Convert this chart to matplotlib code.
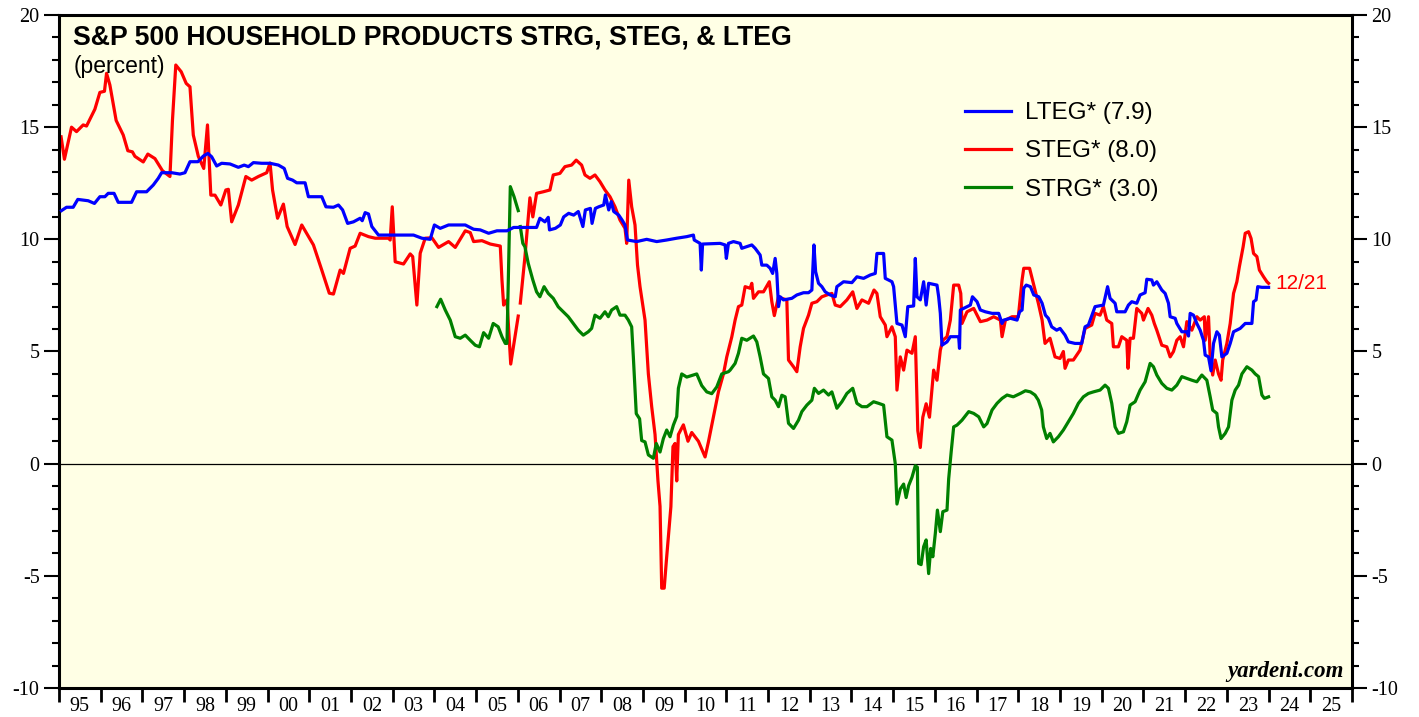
import numpy as np
import matplotlib.pyplot as plt
from matplotlib.ticker import MultipleLocator, FixedLocator, NullFormatter

nan = np.nan

# LTEG (blue) - decimal years / percent
lteg_x = [1995.06, 1995.18, 1995.34, 1995.45, 1995.70, 1995.85, 1995.98, 1996.10, 1996.18, 1996.32,
          1996.42, 1996.74, 1996.86, 1997.10, 1997.26, 1997.38, 1997.46, 1997.70, 1997.90, 1998.02,
          1998.14, 1998.33, 1998.46, 1998.57, 1998.66, 1998.78, 1998.90, 1999.10, 1999.30, 1999.44,
          1999.54, 1999.66, 1999.86, 2000.06, 2000.26, 2000.40, 2000.48, 2000.60, 2000.70, 2000.90,
          2000.98, 2001.30, 2001.40, 2001.58, 2001.70, 2001.80, 2001.92, 2002.06, 2002.22, 2002.27,
          2002.34, 2002.42, 2002.50, 2002.66, 2003.30, 2003.50, 2003.70, 2003.90, 2004.00, 2004.14,
          2004.34, 2004.74, 2004.94, 2005.10, 2005.30, 2005.50, 2005.74, 2005.90, 2006.20, 2006.45,
          2006.53, 2006.65, 2006.73, 2006.76, 2006.90, 2007.02, 2007.10, 2007.22, 2007.34, 2007.45,
          2007.56, 2007.62, 2007.74, 2007.78, 2007.86, 2007.94, 2008.06, 2008.10, 2008.18, 2008.24,
          2008.30, 2008.42, 2008.50, 2008.57, 2008.63, 2008.85, 2009.09, 2009.33, 2009.57, 2009.81,
          2010.05, 2010.21, 2010.23, 2010.37, 2010.40, 2010.43, 2010.85, 2010.97, 2011.00, 2011.05,
          2011.17, 2011.33, 2011.37, 2011.61, 2011.69, 2011.81, 2011.85, 2011.97, 2012.05, 2012.11,
          2012.17, 2012.21, 2012.25, 2012.29, 2012.37, 2012.57, 2012.69, 2012.85, 2012.97, 2013.05,
          2013.10, 2013.14, 2013.21, 2013.29, 2013.37, 2013.49, 2013.61, 2013.65, 2013.81, 2014.01,
          2014.13, 2014.29, 2014.45, 2014.57, 2014.61, 2014.77, 2014.81, 2014.97, 2015.01, 2015.09,
          2015.21, 2015.29, 2015.35, 2015.49, 2015.53, 2015.57, 2015.65, 2015.73, 2015.79, 2015.85,
          2016.05, 2016.09, 2016.13, 2016.17, 2016.29, 2016.37, 2016.57, 2016.59, 2016.61, 2016.77,
          2016.85, 2016.90, 2017.01, 2017.09, 2017.21, 2017.37, 2017.53, 2017.61, 2017.65, 2017.81,
          2017.97, 2018.03, 2018.09, 2018.13, 2018.19, 2018.29, 2018.37, 2018.49, 2018.57, 2018.65,
          2018.72, 2018.80, 2018.92, 2019.00, 2019.12, 2019.20, 2019.36, 2019.52, 2019.60, 2019.68,
          2019.84, 2020.04, 2020.14, 2020.20, 2020.32, 2020.36, 2020.56, 2020.64, 2020.72, 2020.84,
          2020.92, 2021.04, 2021.08, 2021.20, 2021.24, 2021.32, 2021.44, 2021.52, 2021.60, 2021.64,
          2021.76, 2021.80, 2021.92, 2022.04, 2022.08, 2022.12, 2022.20, 2022.28, 2022.36, 2022.44,
          2022.48, 2022.56, 2022.62, 2022.68, 2022.76, 2022.82, 2022.88, 2023.00, 2023.08, 2023.16,
          2023.32, 2023.44, 2023.60, 2023.64, 2023.70, 2023.74, 2023.84, 2024.00]
lteg_y = [11.28, 11.43, 11.43, 11.78, 11.72, 11.60, 11.90, 11.90, 12.05, 12.05,
          11.65, 11.65, 12.12, 12.12, 12.42, 12.72, 12.97, 12.97, 12.91, 12.97,
          13.46, 13.46, 13.71, 13.83, 13.68, 13.27, 13.39, 13.36, 13.21, 13.31,
          13.24, 13.42, 13.39, 13.39, 13.31, 13.16, 12.72, 12.64, 12.52, 12.52,
          11.90, 11.90, 11.45, 11.43, 11.53, 11.31, 10.71, 10.78, 10.94, 10.83,
          11.19, 11.13, 10.57, 10.19, 10.19, 10.19, 10.05, 10.00, 10.64, 10.49,
          10.64, 10.64, 10.45, 10.42, 10.27, 10.38, 10.38, 10.53, 10.53, 10.53,
          10.94, 10.78, 10.98, 10.42, 10.49, 10.64, 11.00, 11.16, 11.08, 11.24,
          10.57, 11.31, 11.38, 10.71, 11.38, 11.45, 11.53, 11.98, 11.31, 11.68,
          11.24, 11.08, 10.86, 10.64, 9.97, 9.90, 10.00, 9.90, 9.97, 10.05,
          10.12, 10.19, 9.97, 9.82, 8.63, 9.79, 9.82, 9.75, 9.15, 9.82,
          9.90, 9.82, 9.60, 9.75, 9.60, 9.30, 8.85, 8.85, 8.71, 8.48,
          9.15, 8.48, 7.00, 7.44, 7.30, 7.37, 7.52, 7.62, 7.62, 7.74,
          9.75, 8.56, 8.04, 7.89, 7.66, 7.52, 7.44, 7.89, 8.11, 8.07,
          8.33, 8.26, 8.41, 8.48, 9.37, 9.37, 8.26, 8.11, 7.89, 6.25,
          6.18, 5.66, 7.00, 7.03, 9.15, 7.44, 7.30, 8.11, 7.07, 8.04,
          7.96, 7.44, 6.70, 5.28, 5.43, 5.66, 5.66, 5.14, 6.85, 7.00,
          7.07, 7.44, 7.22, 6.85, 6.77, 6.70, 6.70, 6.25, 6.40, 6.48,
          6.40, 6.77, 6.85, 7.82, 7.96, 7.89, 7.52, 7.44, 7.15, 6.62,
          6.48, 6.10, 5.95, 6.03, 5.73, 5.43, 5.36, 5.36, 6.10, 6.18,
          7.00, 7.07, 7.89, 7.37, 7.15, 6.77, 6.77, 7.07, 7.22, 7.15,
          7.52, 7.62, 8.22, 8.19, 7.96, 8.11, 7.74, 7.59, 7.15, 6.55,
          6.48, 6.25, 5.88, 5.88, 5.69, 6.70, 6.62, 6.25, 5.95, 5.50,
          4.84, 4.76, 4.14, 5.36, 5.88, 5.73, 4.76, 4.92, 5.36, 5.88,
          6.03, 6.25, 6.25, 7.22, 7.30, 7.89, 7.86, 7.86]

# STEG (red)
steg_x = [1995.05, 1995.13, 1995.30, 1995.42, 1995.58, 1995.66, 1995.86, 1995.98, 1996.09, 1996.14,
          1996.22, 1996.37, 1996.54, 1996.65, 1996.76, 1996.82, 1997.02, 1997.13, 1997.30, 1997.48,
          1997.66, 1997.72, 1997.80, 1997.93, 1998.05, 1998.14, 1998.22, 1998.34, 1998.47, 1998.56,
          1998.64, 1998.74, 1998.88, 1999.00, 1999.06, 1999.14, 1999.30, 1999.48, 1999.62, 1999.78,
          1999.98, 2000.06, 2000.12, 2000.24, 2000.38, 2000.47, 2000.66, 2000.82, 2001.10, 2001.30,
          2001.48, 2001.58, 2001.74, 2001.82, 2001.98, 2002.10, 2002.22, 2002.42, 2002.58, 2002.90,
          2002.94, 2002.99, 2003.06, 2003.26, 2003.42, 2003.48, 2003.58, 2003.66, 2003.78, 2003.94,
          2004.10, 2004.34, 2004.50, 2004.74, 2004.86, 2004.94, 2005.14, 2005.34, 2005.58, 2005.62,
          2005.66, 2005.74, 2005.83, 2006.01, 2006.03, 2006.06, 2006.17, 2006.29, 2006.36, 2006.45,
          2006.61, 2006.77, 2006.85, 2007.01, 2007.13, 2007.29, 2007.40, 2007.53, 2007.61, 2007.73,
          2007.85, 2007.97, 2008.09, 2008.21, 2008.33, 2008.45, 2008.57, 2008.61, 2008.66, 2008.73,
          2008.81, 2008.87, 2008.93, 2009.05, 2009.13, 2009.21, 2009.29, 2009.36, 2009.41, 2009.45,
          2009.51, 2009.56, 2009.61, 2009.67, 2009.72, 2009.77, 2009.81, 2009.85, 2009.97, 2010.08,
          2010.17, 2010.33, 2010.49, 2010.57, 2010.69, 2010.81, 2010.93, 2011.01, 2011.13, 2011.21,
          2011.29, 2011.37, 2011.45, 2011.57, 2011.61, 2011.65, 2011.77, 2011.89, 2012.03, 2012.09,
          2012.15, 2012.25, 2012.33, 2012.45, 2012.49, 2012.61, 2012.69, 2012.77, 2012.85, 2012.97,
          2013.05, 2013.17, 2013.29, 2013.41, 2013.53, 2013.61, 2013.73, 2013.89, 2014.03, 2014.13,
          2014.25, 2014.41, 2014.54, 2014.61, 2014.69, 2014.81, 2014.85, 2014.97, 2015.05, 2015.09,
          2015.17, 2015.25, 2015.33, 2015.45, 2015.53, 2015.59, 2015.65, 2015.71, 2015.79, 2015.87,
          2015.97, 2016.05, 2016.13, 2016.19, 2016.29, 2016.37, 2016.45, 2016.57, 2016.62, 2016.65,
          2016.77, 2016.93, 2017.09, 2017.25, 2017.41, 2017.57, 2017.61, 2017.69, 2017.85, 2018.00,
          2018.09, 2018.13, 2018.27, 2018.36, 2018.48, 2018.57, 2018.64, 2018.76, 2018.88, 2019.00,
          2019.08, 2019.12, 2019.20, 2019.32, 2019.48, 2019.60, 2019.76, 2019.84, 2019.96, 2020.04,
          2020.12, 2020.24, 2020.28, 2020.40, 2020.48, 2020.60, 2020.63, 2020.68, 2020.76, 2020.84,
          2020.96, 2021.00, 2021.11, 2021.20, 2021.26, 2021.32, 2021.44, 2021.56, 2021.64, 2021.72,
          2021.80, 2021.88, 2021.96, 2022.04, 2022.16, 2022.28, 2022.36, 2022.46, 2022.48, 2022.56,
          2022.60, 2022.66, 2022.72, 2022.80, 2022.86, 2022.90, 2023.00, 2023.08, 2023.16, 2023.24,
          2023.30, 2023.39, 2023.44, 2023.52, 2023.58, 2023.64, 2023.72, 2023.78, 2023.88, 2023.96,
          2024.00]
steg_y = [14.57, 13.57, 15.00, 14.80, 15.10, 15.05, 15.80, 16.55, 16.60, 17.40,
          16.88, 15.30, 14.65, 13.95, 13.90, 13.70, 13.45, 13.80, 13.60, 13.06,
          12.80, 15.30, 17.77, 17.47, 16.95, 16.80, 14.65, 13.70, 13.16, 15.10,
          11.97, 11.97, 11.53, 12.20, 12.23, 10.78, 11.53, 12.80, 12.64, 12.80,
          12.97, 13.40, 12.20, 10.94, 11.57, 10.57, 9.77, 10.64, 9.75, 8.63,
          7.60, 7.56, 8.63, 8.48, 9.60, 9.70, 10.27, 10.12, 10.05, 10.05,
          9.97, 11.45, 9.00, 8.90, 9.35, 9.23, 7.07, 9.38, 10.05, 10.07,
          9.64, 9.90, 9.64, 10.38, 10.30, 9.90, 9.94, 9.79, 9.70, 8.19,
          7.07, 7.30, 4.44, 6.58, nan, 7.16, 9.20, 11.85, 11.00, 12.05,
          12.12, 12.20, 12.87, 12.94, 13.24, 13.31, 13.53, 13.31, 12.87, 12.72,
          12.87, 12.57, 12.20, 11.90, 11.45, 10.86, 10.49, 9.82, 12.64, 11.45,
          10.64, 8.85, 7.89, 6.40, 4.00, 2.54, 1.30, -0.76, -1.90, -5.55,
          -5.55, -4.37, -3.26, -1.92, 0.76, 0.90, -0.77, 1.30, 1.73, 1.00,
          1.39, 1.00, 0.30, 0.97, 2.08, 3.20, 4.00, 4.76, 5.65, 6.40,
          7.00, 7.07, 7.89, 7.82, 8.04, 7.37, 7.66, 7.66, 8.11, 7.22,
          6.60, 7.44, 7.37, 7.30, 4.62, 4.32, 4.10, 5.21, 6.03, 6.62,
          7.15, 7.22, 7.44, 7.52, 7.59, 7.07, 7.00, 7.30, 7.66, 6.92,
          7.30, 7.15, 7.74, 7.59, 6.55, 6.18, 5.66, 6.10, 5.66, 3.28,
          4.76, 4.17, 5.06, 4.92, 5.66, 1.47, 0.72, 2.07, 2.67, 2.07,
          4.17, 3.72, 5.06, 5.50, 5.66, 6.40, 7.96, 7.96, 7.59, 6.25,
          6.77, 6.92, 6.33, 6.40, 6.55, 6.40, 5.66, 6.40, 6.55, 6.55,
          8.19, 8.71, 8.71, 8.04, 7.15, 6.40, 5.36, 5.59, 4.76, 4.69,
          5.00, 4.25, 4.62, 4.62, 5.06, 6.03, 6.18, 6.70, 6.62, 7.00,
          6.40, 6.25, 5.21, 5.21, 5.66, 5.50, 4.25, 5.59, 5.59, 6.92,
          6.70, 6.40, 6.92, 6.62, 6.25, 5.95, 5.28, 5.21, 4.76, 5.00,
          5.50, 5.66, 5.21, 6.33, 5.95, 6.55, 6.40, 6.55, 5.50, 6.55,
          4.76, 3.95, 4.62, 4.00, 3.72, 4.62, 5.36, 6.25, 7.59, 8.11,
          8.78, 9.67, 10.27, 10.34, 10.04, 9.37, 9.23, 8.63, 8.33, 8.11,
          8.04]

# STRG (green)
strg_x = [2004.06, 2004.15, 2004.26, 2004.38, 2004.50, 2004.62, 2004.74, 2004.86, 2004.98, 2005.08,
          2005.18, 2005.30, 2005.41, 2005.53, 2005.62, 2005.70, 2005.74, 2005.82, 2005.91, 2006.01,
          2006.03, 2006.06, 2006.12, 2006.17, 2006.25, 2006.36, 2006.45, 2006.53, 2006.63, 2006.73,
          2006.85, 2006.97, 2007.09, 2007.21, 2007.33, 2007.45, 2007.57, 2007.69, 2007.77, 2007.85,
          2007.97, 2008.09, 2008.17, 2008.25, 2008.37, 2008.45, 2008.57, 2008.65, 2008.73, 2008.77,
          2008.84, 2008.92, 2008.97, 2009.05, 2009.13, 2009.25, 2009.32, 2009.41, 2009.49, 2009.57,
          2009.65, 2009.73, 2009.81, 2009.85, 2009.93, 2010.05, 2010.17, 2010.29, 2010.41, 2010.53,
          2010.65, 2010.77, 2010.89, 2011.05, 2011.09, 2011.21, 2011.29, 2011.37, 2011.49, 2011.65,
          2011.73, 2011.81, 2011.89, 2012.01, 2012.09, 2012.17, 2012.25, 2012.33, 2012.41, 2012.49,
          2012.61, 2012.73, 2012.81, 2012.93, 2013.05, 2013.11, 2013.21, 2013.33, 2013.45, 2013.53,
          2013.65, 2013.77, 2013.89, 2014.03, 2014.13, 2014.25, 2014.37, 2014.53, 2014.65, 2014.77,
          2014.85, 2014.97, 2015.05, 2015.09, 2015.17, 2015.25, 2015.31, 2015.37, 2015.45, 2015.53,
          2015.58, 2015.61, 2015.67, 2015.73, 2015.79, 2015.85, 2015.90, 2015.95, 2016.01, 2016.06,
          2016.13, 2016.19, 2016.29, 2016.33, 2016.39, 2016.45, 2016.53, 2016.65, 2016.81, 2016.93,
          2017.05, 2017.17, 2017.25, 2017.37, 2017.49, 2017.61, 2017.73, 2017.88, 2018.05, 2018.17,
          2018.29, 2018.40, 2018.48, 2018.56, 2018.60, 2018.68, 2018.76, 2018.84, 2018.96, 2019.08,
          2019.20, 2019.32, 2019.44, 2019.56, 2019.68, 2019.80, 2019.96, 2020.08, 2020.16, 2020.24,
          2020.32, 2020.40, 2020.52, 2020.60, 2020.68, 2020.80, 2020.92, 2021.04, 2021.16, 2021.24,
          2021.32, 2021.44, 2021.56, 2021.68, 2021.80, 2021.92, 2022.04, 2022.16, 2022.28, 2022.40,
          2022.52, 2022.60, 2022.66, 2022.76, 2022.80, 2022.86, 2022.96, 2023.04, 2023.12, 2023.20,
          2023.28, 2023.36, 2023.48, 2023.60, 2023.68, 2023.76, 2023.84, 2023.90, 2024.00]
strg_y = [7.00, 7.33, 6.85, 6.40, 5.66, 5.59, 5.73, 5.50, 5.28, 5.21,
          5.84, 5.59, 6.25, 6.10, 5.66, 5.36, 5.36, 12.35, 11.90, 11.28,
          nan, 10.57, 9.82, 9.67, 8.93, 8.19, 7.66, 7.44, 7.89, 7.59,
          7.37, 6.99, 6.77, 6.55, 6.25, 5.95, 5.73, 5.88, 6.03, 6.62,
          6.48, 6.77, 6.55, 6.85, 7.00, 6.62, 6.62, 6.40, 6.10, 4.76,
          2.23, 2.00, 1.03, 0.97, 0.39, 0.24, 0.90, 0.52, 1.12, 1.50,
          1.20, 1.72, 2.10, 3.36, 4.00, 3.86, 3.93, 4.00, 3.48, 3.20,
          3.12, 3.42, 4.00, 4.10, 4.17, 4.47, 4.92, 5.59, 5.50, 5.69,
          5.43, 4.76, 4.00, 3.80, 2.98, 2.83, 2.54, 3.05, 2.98, 1.80,
          1.57, 1.94, 2.32, 2.61, 2.83, 3.36, 3.13, 3.28, 3.06, 3.20,
          2.47, 2.76, 3.13, 3.36, 2.69, 2.54, 2.54, 2.76, 2.69, 2.61,
          1.20, 1.05, 0.00, -1.80, -1.13, -0.91, -1.51, -0.98, -0.61, -0.09,
          -0.16, -4.45, -4.50, -3.70, -3.40, -4.90, -3.78, -4.15, -3.11, -2.07,
          -3.03, -2.14, -2.07, -0.68, 0.52, 1.64, 1.72, 1.94, 2.32, 2.24,
          2.09, 1.64, 1.79, 2.39, 2.69, 2.91, 3.06, 2.98, 3.13, 3.25,
          3.20, 3.06, 2.83, 2.39, 1.64, 1.12, 1.35, 0.97, 1.20, 1.50,
          1.87, 2.24, 2.69, 2.98, 3.13, 3.20, 3.28, 3.50, 3.36, 2.69,
          1.64, 1.35, 1.42, 1.87, 2.61, 2.76, 3.28, 3.65, 4.47, 4.32,
          3.95, 3.58, 3.36, 3.28, 3.50, 3.88, 3.80, 3.72, 3.65, 3.95,
          3.72, 2.98, 2.39, 2.24, 1.64, 1.12, 1.35, 1.64, 2.83, 3.28,
          3.50, 4.00, 4.32, 4.17, 4.00, 3.88, 3.06, 2.91, 2.98]

year_ticks = list(range(1995, 2027))
year_labels = ['%02d' % (y % 100) for y in range(1995, 2026)]

legend_labels = ['LTEG* (7.9)', 'STEG* (8.0)', 'STRG* (3.0)']
last_date = '12/21'

sans = 'Liberation Sans'
serif = 'Liberation Serif'
plt.rcParams['axes.unicode_minus'] = False

fig = plt.figure(figsize=(14.19, 7.17), dpi=100, facecolor='white')
ax = fig.add_axes([59 / 1419, 1 - 688 / 717, (1352 - 59) / 1419, (688 - 15) / 717],
                  facecolor='#ffffe5')

ax.axhline(0, color='black', lw=0.9, zorder=1)
ax.plot(lteg_x, lteg_y, color='#0000ff', lw=2.3, label=legend_labels[0], zorder=3)
ax.plot(steg_x, steg_y, color='#ff0000', lw=2.3, label=legend_labels[1], zorder=2)
ax.plot(strg_x, strg_y, color='#008000', lw=2.3, label=legend_labels[2], zorder=2)

ax.set_xlim(1995, 2026)
ax.set_ylim(-10, 20)

# y axis: both sides, ticks outside
ax.yaxis.set_major_locator(MultipleLocator(5))
ax.yaxis.set_minor_locator(MultipleLocator(1))
ax.tick_params(axis='y', which='both', left=True, right=True, labelleft=True, labelright=True,
               direction='out', width=1.5)
ax.tick_params(axis='y', which='major', length=11, pad=3, labelsize=14.5)
ax.tick_params(axis='y', which='minor', length=5)

# x axis: ticks at year boundaries, labels centered within each year
ax.xaxis.set_major_locator(FixedLocator(year_ticks))
ax.xaxis.set_major_formatter(NullFormatter())
ax.xaxis.set_minor_locator(FixedLocator([y + 0.5 for y in range(1995, 2026)]))
ax.set_xticklabels(year_labels, minor=True)
ax.tick_params(axis='x', which='major', direction='out', length=10, width=2)
ax.tick_params(axis='x', which='minor', length=0, pad=6.5, labelsize=14.5)

for lab in ax.xaxis.get_ticklabels(which='both') + ax.yaxis.get_ticklabels(which='both'):
    lab.set_family(serif)

for s in ax.spines.values():
    s.set_linewidth(2.2)

ax.text(0.011, 0.967, 'S&P 500 HOUSEHOLD PRODUCTS STRG, STEG, & LTEG', transform=ax.transAxes,
        fontsize=19.2, fontweight='bold', family=sans, va='center', ha='left')
ax.text(0.011, 0.923, '(percent)', transform=ax.transAxes,
        fontsize=16.5, family=sans, va='center', ha='left')

leg = ax.legend(loc='upper left', bbox_to_anchor=(953 / 1419, 1 - 90 / 717),
                bbox_transform=fig.transFigure, frameon=False, prop={'family': sans, 'size': 17.5},
                handlelength=1.9, handletextpad=0.55, labelspacing=0.67, borderpad=0)

ax.annotate(last_date, xy=(steg_x[-1], steg_y[-1]), xytext=(5, 0), textcoords='offset points',
            color='#ff0000', fontsize=15, family=sans, va='center', ha='left')

ax.text(0.9935, 0.017, 'yardeni.com', transform=ax.transAxes, fontsize=16.5,
        family=serif, fontweight='bold', style='italic', ha='right', va='baseline')

fig.savefig('out.png', dpi=100)
